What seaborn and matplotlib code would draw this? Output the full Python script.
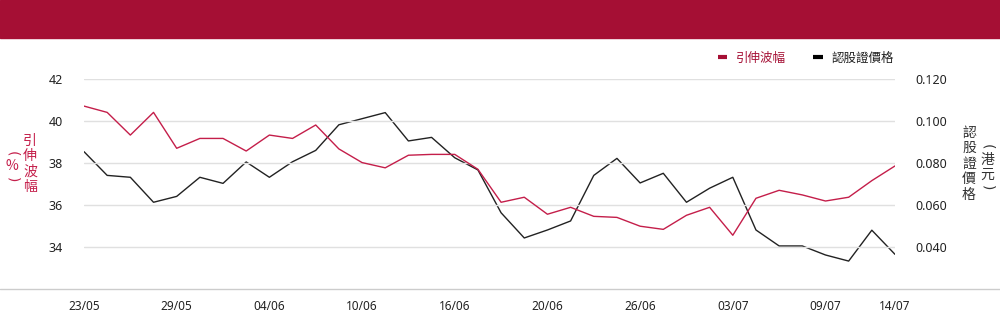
import matplotlib
matplotlib.use("Agg")
import matplotlib.pyplot as plt
import seaborn as sns
import numpy as np
import pandas as pd
from matplotlib.lines import Line2D

# ---- data ----
dates = ["23/05", "26/05", "27/05", "28/05", "29/05", "30/05", "02/06", "03/06", "04/06",
         "05/06", "06/06", "09/06", "10/06", "11/06", "12/06", "13/06", "16/06", "17/06",
         "18/06", "19/06", "20/06", "23/06", "24/06", "25/06", "26/06", "27/06", "30/06",
         "02/07", "03/07", "04/07", "07/07", "08/07", "09/07", "10/07", "11/07", "14/07"]
implied_vol = [40.71, 40.41, 39.33, 40.41, 38.70, 39.17, 39.17, 38.57, 39.33,
               39.17, 39.81, 38.67, 38.02, 37.77, 38.37, 38.41, 38.41, 37.70,
               36.13, 36.37, 35.56, 35.89, 35.46, 35.41, 34.99, 34.84, 35.51,
               35.89, 34.56, 36.32, 36.70, 36.48, 36.19, 36.37, 37.16, 37.86]
warrant_price = [0.0854, 0.0741, 0.0732, 0.0613, 0.0641, 0.0732, 0.0703, 0.0805, 0.0732,
                 0.0806, 0.0860, 0.0982, 0.1011, 0.1040, 0.0905, 0.0922, 0.0825, 0.0767,
                 0.0563, 0.0443, 0.0481, 0.0524, 0.0741, 0.0822, 0.0705, 0.0751, 0.0613,
                 0.0680, 0.0732, 0.0481, 0.0405, 0.0405, 0.0362, 0.0333, 0.0480, 0.0365]
xtick_labels = ["23/05", "29/05", "04/06", "10/06", "16/06", "20/06", "26/06", "03/07", "09/07", "14/07"]
left_ticks = [34, 36, 38, 40, 42]
right_ticks = [0.040, 0.060, 0.080, 0.100, 0.120]
series_names = ["引伸波幅", "認股證價格"]
left_title = "引伸波幅"
left_unit = "%"
right_title = "認股證價格"
right_unit = "港元"

df = pd.DataFrame({"idx": np.arange(len(dates)), "date": dates,
                   "iv": implied_vol, "price": warrant_price})

RED = "#c41e4a"
RED_DARK = "#a50f34"
BLACK = "#222222"
GRID = "#e0e0e0"

sns.set_theme(style="white")
plt.rcParams["font.family"] = ["Noto Sans", "Noto Sans CJK TC", "DejaVu Sans"]

fig = plt.figure(figsize=(10, 3.24), dpi=100)
fig.patch.set_facecolor("white")

# top banner
fig.patches.append(matplotlib.patches.Rectangle((0, 1 - 38 / 324), 1, 38 / 324,
                                                transform=fig.transFigure, color=RED_DARK,
                                                zorder=0))

ax = fig.add_axes([0.084, 1 - 289 / 324, 0.895 - 0.084, (289 - 79) / 324])
ax2 = ax.twinx()

sns.lineplot(data=df, x="idx", y="iv", ax=ax, color=RED, linewidth=1.0)
sns.lineplot(data=df, x="idx", y="price", ax=ax2, color=BLACK, linewidth=1.0)

ax.set_xlim(0, len(dates) - 1)
ax.set_ylim(32, 42)
ax2.set_ylim(0.02, 0.12)

ax.set_yticks(left_ticks)
ax.set_yticklabels([str(t) for t in left_ticks])
ax2.set_yticks(right_ticks)
ax2.set_yticklabels([f"{t:.3f}" for t in right_ticks])
ax.set_xticks([dates.index(l) for l in xtick_labels])
ax.set_xticklabels(xtick_labels)

ax.grid(axis="y", color=GRID, linewidth=1)
ax.grid(axis="x", visible=False)
ax2.grid(False)
for a in (ax, ax2):
    for s in a.spines.values():
        s.set_visible(False)
    a.set_xlabel("")
    a.set_ylabel("")
ax.tick_params(axis="y", length=0, pad=15, labelsize=9, labelcolor="#222222")
ax2.tick_params(axis="y", length=0, pad=15, labelsize=9, labelcolor="#222222")
ax.tick_params(axis="x", length=0, pad=8, labelsize=8.5, labelcolor="#222222")
ax.set_zorder(ax2.get_zorder() + 1)
ax.patch.set_visible(False)

# full-width bottom rule
fig.add_artist(Line2D([0, 1], [1 - 289 / 324] * 2, transform=fig.transFigure,
                      color="#cccccc", linewidth=1))

cjk = ["Noto Sans CJK TC", "DejaVu Sans"]
H = 324.0


def stacked(xpx, ytop, text, color, step=15.5):
    for i, ch in enumerate(text):
        fig.text(xpx / 1000, 1 - (ytop + step * i + step / 2) / H, ch, color=color,
                 fontsize=10, family=cjk, ha="center", va="center")


def unit_stack(xpx, ytop, unit, color, step=15.0, pstep=11.0):
    y = ytop
    fig.text(xpx / 1000, 1 - (y + pstep / 2) / H, "(", color=color, fontsize=10,
             family="DejaVu Sans", ha="center", va="center", rotation=-90)
    y += pstep
    for ch in unit:
        fig.text(xpx / 1000, 1 - (y + step / 2) / H, ch, color=color, fontsize=10,
                 family=cjk, ha="center", va="center")
        y += step
    fig.text(xpx / 1000, 1 - (y + pstep / 2) / H, ")", color=color, fontsize=10,
             family="DejaVu Sans", ha="center", va="center", rotation=-90)


stacked(30, 133, left_title, RED)
unit_stack(12, 148, left_unit, RED)
stacked(969, 125, right_title, "#333333")
unit_stack(987, 141, right_unit, "#333333")

handles = [Line2D([], [], color=RED_DARK, linewidth=3, solid_capstyle="butt"),
           Line2D([], [], color="black", linewidth=3, solid_capstyle="butt")]
leg = fig.legend(handles, series_names, ncol=2, loc="center right",
                 bbox_to_anchor=(0.905, 1 - 58 / 324), frameon=False,
                 handlelength=0.75, handletextpad=0.7, columnspacing=2.2,
                 prop={"family": cjk, "size": 9}, labelcolor=[RED_DARK, "#222222"])

fig.savefig("out.png", dpi=100, facecolor="white")
